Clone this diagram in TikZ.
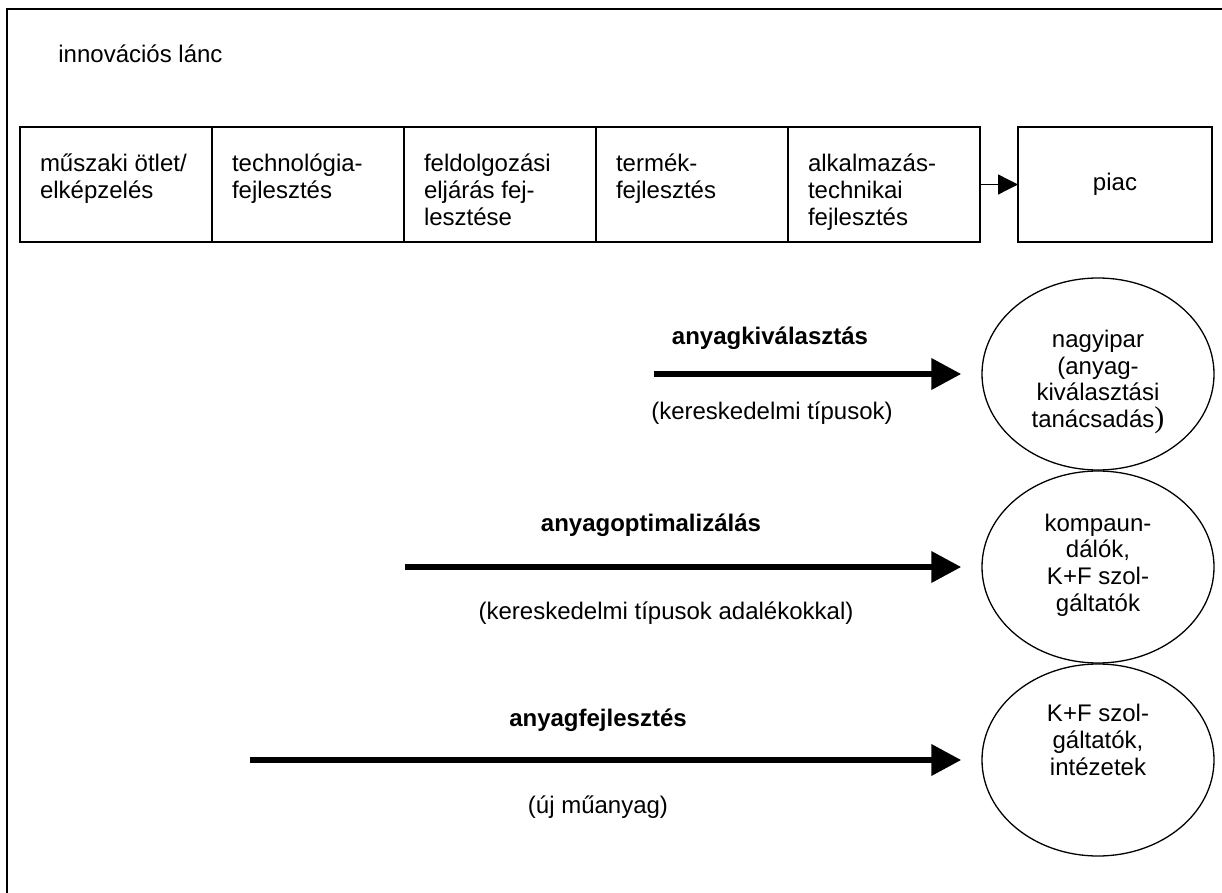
\documentclass[tikz,border=0pt]{standalone}
\usepackage{fontspec}
\setmainfont{Liberation Sans}
\newfontfamily\parenfont{Liberation Serif}
\usetikzlibrary{positioning,shapes.geometric,arrows.meta}

\tikzset{
  stage/.style={draw,line width=0.8pt,outer sep=0pt,inner xsep=10pt,inner ysep=0pt,
    minimum width=96pt,minimum height=57.5pt},
  market/.style={draw,line width=0.8pt,outer sep=0pt,minimum width=97pt,minimum height=57.5pt},
  actor/.style={draw,ellipse,line width=0.65pt,minimum width=116pt,minimum height=96pt},
  actortext/.style={align=center,inner sep=0pt},
  route/.style={line width=3.3pt,-{Triangle[length=15pt,width=15pt]},shorten >=10pt},
  routehead/.style={font=\fontsize{12}{13.4}\selectfont\bfseries},
}
\newcommand{\stagetext}[1]{\parbox[t][57.5pt][t]{76pt}{\raggedright\rule{0pt}{22.5pt}#1}}

\begin{document}
\begin{tikzpicture}[x=0.5pt,y=-0.5pt,font=\fontsize{12}{13.4}\selectfont]
\useasboundingbox (0,0) rectangle (1222,893);
\draw[line width=1pt] (7,893) -- (7,9) -- (1222,9);

\node[anchor=base west,inner sep=0pt] (chain) at (58,63) {innovációs lánc};

% the chain of stages
\node[stage,anchor=north west] (idea) at (20,127) {\stagetext{műszaki ötlet/\\elképzelés}};
\node[stage,right=0pt of idea] (techdev) {\stagetext{technológia-\\fejlesztés}};
\node[stage,right=0pt of techdev] (procdev) {\stagetext{feldolgozási\\eljárás fej-\\lesztése}};
\node[stage,right=0pt of procdev] (proddev) {\stagetext{termék-\\fejlesztés}};
\node[stage,right=0pt of proddev] (appdev) {\stagetext{alkalmazás-\\technikai\\fejlesztés}};
\node[market,right=19pt of appdev] (market) {piac};
\draw[line width=0.65pt,-{Triangle[length=10pt,width=10pt]}] (appdev) -- (market);

% who does what
\node[actor] (industry) at (1098,374) {};
\node[actor] (compounder) at (1098,567) {};
\node[actor] (institute) at (1098,760) {};
\node[actortext] (industrytext) at ([yshift=-4pt]industry.center)
  {nagyipar\\(anyag-\\kiválasztási\\tanácsadás{\parenfont\fontsize{15}{15}\selectfont)}};
\node[actortext] (compoundertext) at ([yshift=1pt]compounder.center)
  {kompaun-\\dálók,\\K+F szol-\\gáltatók};
\node[actortext] (institutetext) at ([yshift=10pt]institute.center)
  {K+F szol-\\gáltatók,\\intézetek};

\coordinate (selstart) at (654,374);
\coordinate (optstart) at (405,567);
\coordinate (devstart) at (250,760);
\draw[route] (selstart) -- (industry.west);
\draw[route] (optstart) -- (compounder.west);
\draw[route] (devstart) -- (institute.west);

\node[routehead] (selhead) at (770,338) {anyagkiválasztás};
\node (selsub) at (772,413) {(kereskedelmi típusok)};
\node[routehead] (opthead) at (651,525) {anyagoptimalizálás};
\node (optsub) at (666,613) {(kereskedelmi típusok adalékokkal)};
\node[routehead] (devhead) at (598,720) {anyagfejlesztés};
\node (devsub) at (598,807) {(új műanyag)};
\end{tikzpicture}
\end{document}
